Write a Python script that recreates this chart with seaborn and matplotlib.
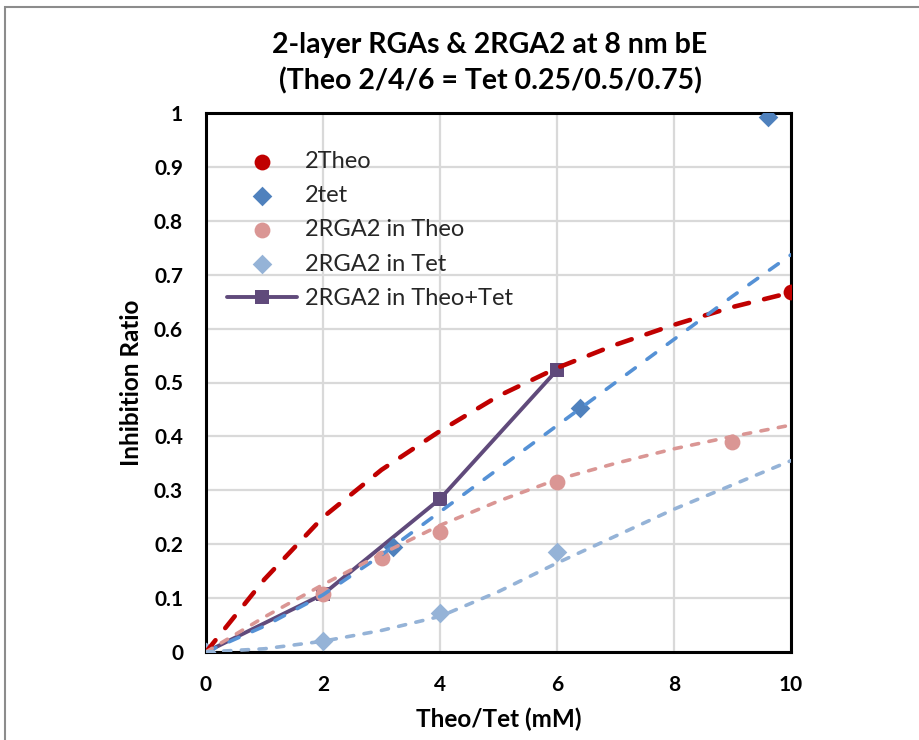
import matplotlib
matplotlib.use("Agg")
import matplotlib.pyplot as plt
from matplotlib.patches import Rectangle
import seaborn as sns
import pandas as pd

# Measured inhibition ratios
theo2_x = [0, 10]
theo2_y = [0, 0.667]
tet2_x = [0, 3.2, 6.4, 9.6]
tet2_y = [0, 0.195, 0.452, 0.993]
rga_theo_x = [0, 2, 3, 4, 6, 9]
rga_theo_y = [0, 0.108, 0.174, 0.223, 0.316, 0.390]
rga_tet_x = [0, 2, 4, 6]
rga_tet_y = [0, 0.021, 0.072, 0.185]
rga_both_x = [0, 2, 4, 6]
rga_both_y = [0, 0.107, 0.284, 0.523]

# Trend curves
trend_x = [0, 1, 2, 3, 4, 5, 6, 7, 8, 9, 10]
trend_theo2 = [0, 0.135, 0.25, 0.338, 0.41, 0.475, 0.527, 0.570, 0.607, 0.640, 0.667]
trend_tet2 = [0, 0.048, 0.106, 0.18, 0.26, 0.34, 0.42, 0.50, 0.58, 0.66, 0.737]
trend_rga_theo = [0, 0.065, 0.125, 0.182, 0.235, 0.28, 0.32, 0.35, 0.377, 0.40, 0.421]
trend_rga_tet = [0, 0.006, 0.02, 0.04, 0.066, 0.112, 0.165, 0.215, 0.265, 0.31, 0.355]

labels = ["2Theo", "2tet", "2RGA2 in Theo", "2RGA2 in Tet", "2RGA2 in Theo+Tet"]
x_ticks = [0, 2, 4, 6, 8, 10]
y_ticks = [0, 0.1, 0.2, 0.3, 0.4, 0.5, 0.6, 0.7, 0.8, 0.9, 1]

RED = "#C00000"
BLUE = "#4F81BD"
BLUE_TREND = "#5591D5"
PINK = "#DA9694"
LIGHT_BLUE = "#95B3D7"
PURPLE = "#604A7B"

sns.set_theme(style="whitegrid")
plt.rcParams["font.family"] = ["Lato", "DejaVu Sans"]

fig = plt.figure(figsize=(9.19, 7.40), dpi=100)
ax = fig.add_axes([206 / 919, 1 - 652 / 740, (791 - 206) / 919, (652 - 113) / 740])

# Solid combined series (beneath the other marks)
df_both = pd.DataFrame({"x": rga_both_x, "y": rga_both_y})
sns.lineplot(data=df_both, x="x", y="y", ax=ax, color=PURPLE, lw=2.8,
             marker="s", markersize=10, markeredgewidth=0,
             label=labels[4], zorder=3, sort=False)

# Scatter series
series = [
    (theo2_x, theo2_y, RED, "o", 130, labels[0]),
    (tet2_x, tet2_y, BLUE, "D", 100, labels[1]),
    (rga_theo_x, rga_theo_y, PINK, "o", 130, labels[2]),
    (rga_tet_x, rga_tet_y, LIGHT_BLUE, "D", 100, labels[3]),
]
for xs, ys, col, mk, sz, lab in series:
    sns.scatterplot(x=xs, y=ys, ax=ax, color=col, marker=mk, s=sz,
                    linewidth=0, label=lab, zorder=4)

# Dashed trend lines on top
trends = [
    (trend_theo2, RED, 3.3, (3.3, 3.4)),
    (trend_tet2, BLUE_TREND, 2.6, (3.0, 4.0)),
    (trend_rga_theo, PINK, 2.6, (2.0, 2.9)),
    (trend_rga_tet, LIGHT_BLUE, 2.6, (2.0, 2.9)),
]
for ys, col, lw, dash in trends:
    sns.lineplot(x=trend_x, y=ys, ax=ax, color=col, lw=lw, legend=False,
                 zorder=5)
    line = ax.lines[-1]
    line.set_dashes(dash)
    line.set_dash_capstyle("round")

ax.set_xlim(0, 10)
ax.set_ylim(0, 1)
ax.set_xticks(x_ticks)
ax.set_yticks(y_ticks)
ax.set_xticklabels([str(v) for v in x_ticks])
ax.set_yticklabels(["0" if v == 0 else ("1" if v == 1 else f"{v:g}") for v in y_ticks])
ax.grid(True, color="#D9D9D9", lw=1.6)
ax.set_axisbelow(True)
for sp in ax.spines.values():
    sp.set_visible(True)
    sp.set_color("black")
    sp.set_linewidth(2.2)
ax.set_facecolor("white")
ax.tick_params(axis="both", length=0, labelsize=15, labelcolor="black")
ax.tick_params(axis="y", pad=16.5)
ax.tick_params(axis="x", pad=16.5)
for lab in ax.get_xticklabels() + ax.get_yticklabels():
    lab.set_fontweight("bold")

ax.set_xlabel("Theo/Tet (mM)", fontsize=17.5, fontweight="bold", color="black", labelpad=9)
ax.set_ylabel("Inhibition Ratio", fontsize=17.5, fontweight="bold", color="black", labelpad=8)

handles, labs = ax.get_legend_handles_labels()
order = [labs.index(l) for l in labels]
leg = ax.legend([handles[i] for i in order], [labs[i] for i in order],
                loc="upper left", bbox_to_anchor=(227 / 919, 1 - 151 / 740),
                bbox_transform=fig.transFigure, frameon=False, fontsize=17,
                handlelength=2.97, handletextpad=0.34, labelspacing=0.56,
                borderpad=0, borderaxespad=0)
for t in leg.get_texts():
    t.set_color("#262626")

fig.text(490 / 919, 1 - 45 / 740, "2-layer RGAs & 2RGA2 at 8 nm bE",
         ha="center", va="center", fontsize=20.5, fontweight="bold", color="black")
fig.text(490 / 919, 1 - 80.5 / 740, "(Theo 2/4/6 = Tet 0.25/0.5/0.75)",
         ha="center", va="center", fontsize=20.5, fontweight="bold", color="black")

# Outer chart border
fig.add_artist(Rectangle((5 / 919, -0.05), 1.2, 1 - 7 / 740 + 0.05,
                         transform=fig.transFigure, fill=False,
                         edgecolor="#8C8C8C", lw=1.5))

fig.savefig("out.png", dpi=100, facecolor="white")
